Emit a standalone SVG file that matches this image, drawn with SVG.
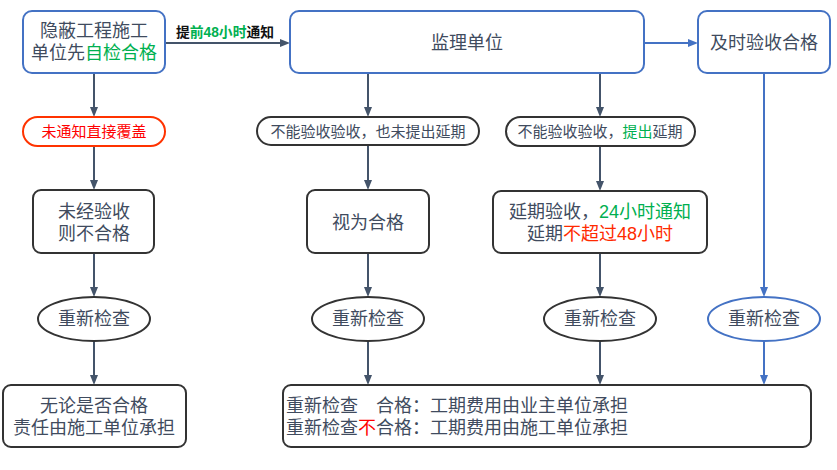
<svg xmlns="http://www.w3.org/2000/svg" width="837" height="470" viewBox="0 0 837 470">
<defs>
<style>
text{font-family:"Liberation Sans","Noto Sans CJK SC",sans-serif;fill:#404b5e;}
.t18{font-size:18px;text-anchor:middle;}
.t15{font-size:15px;text-anchor:middle;}
.lbl{font-weight:bold;fill:#111;font-size:14px;}
.g{fill:#00b050;}
.r{fill:#ff2a00;}
.rr{fill:#ff0000;}
.bbox{fill:#fff;stroke:#4472c4;stroke-width:2;}
.dbox{fill:#fff;stroke:#333;stroke-width:2;}
.rpill{fill:#fff;stroke:#ff3300;stroke-width:2;}
.c{fill:none;stroke:#44546a;stroke-width:2;}
.cb{fill:none;stroke:#4472c4;stroke-width:2;}
</style>
<marker id="ad" markerUnits="userSpaceOnUse" markerWidth="10" markerHeight="10" refX="5" refY="4" orient="auto"><path d="M0,0 L10,4 L0,8 z" fill="#44546a"/></marker>
<marker id="ab" markerUnits="userSpaceOnUse" markerWidth="10" markerHeight="10" refX="5" refY="4" orient="auto"><path d="M0,0 L10,4 L0,8 z" fill="#4472c4"/></marker>
</defs>
<g id="connectors">
<path class="c" d="M165,43 H285" marker-end="url(#ad)"/>
<path class="cb" d="M644,43 H693" marker-end="url(#ab)"/>
<path class="c" d="M94,73 V112" marker-end="url(#ad)"/>
<path class="c" d="M94,146 V185" marker-end="url(#ad)"/>
<path class="c" d="M94,253 V292" marker-end="url(#ad)"/>
<path class="c" d="M94,341 V380" marker-end="url(#ad)"/>
<path class="c" d="M368,73 V112" marker-end="url(#ad)"/>
<path class="c" d="M368,145 V185" marker-end="url(#ad)"/>
<path class="c" d="M368,253 V292" marker-end="url(#ad)"/>
<path class="c" d="M368,341 V380" marker-end="url(#ad)"/>
<path class="c" d="M600,73 V112" marker-end="url(#ad)"/>
<path class="c" d="M600,146 V186" marker-end="url(#ad)"/>
<path class="c" d="M600,253 V292" marker-end="url(#ad)"/>
<path class="c" d="M600,341 V380" marker-end="url(#ad)"/>
<path class="cb" d="M764,73 V292" marker-end="url(#ab)"/>
<path class="cb" d="M764,341 V380" marker-end="url(#ab)"/>
<text class="lbl" x="176" y="37" textLength="98" lengthAdjust="spacingAndGlyphs">提<tspan class="g">前48小时</tspan>通知</text>
</g>
<g id="n1"><rect class="bbox" x="23" y="11" width="142" height="62" rx="9"/>
<text class="t18" x="94" y="37">隐蔽工程施工</text>
<text class="t18" x="94" y="59">单位先<tspan class="g">自检合格</tspan></text></g>
<g id="n2"><rect class="bbox" x="290" y="11" width="354" height="62" rx="9"/>
<text class="t18" x="467" y="49">监理单位</text></g>
<g id="n3"><rect class="bbox" x="698" y="11" width="132" height="62" rx="9"/>
<text class="t18" x="764" y="49">及时验收合格</text></g>
<g id="p1"><rect class="rpill" x="23" y="117" width="142" height="29" rx="14.5"/>
<text class="t15 rr" x="94" y="137">未通知直接覆盖</text></g>
<g id="p2"><rect class="dbox" x="257" y="117" width="222" height="28" rx="14"/>
<text class="t15" x="368" y="137">不能验收验收，也未提出延期</text></g>
<g id="p3"><rect class="dbox" x="506" y="117" width="189" height="29" rx="14.5"/>
<text class="t15" x="600" y="137">不能验收验收，<tspan class="g">提出</tspan>延期</text></g>
<g id="b1"><rect class="dbox" x="33" y="190" width="121" height="63" rx="8"/>
<text class="t18" x="94" y="218">未经验收</text>
<text class="t18" x="94" y="240">则不合格</text></g>
<g id="b2"><rect class="dbox" x="307" y="190" width="122" height="63" rx="8"/>
<text class="t18" x="368" y="229">视为合格</text></g>
<g id="b3"><rect class="dbox" x="493" y="191" width="214" height="62" rx="8"/>
<text class="t18" x="600" y="218">延期验收，<tspan class="g">24小时通知</tspan></text>
<text class="t18" x="600" y="240">延期<tspan class="r">不超过48小时</tspan></text></g>
<g id="e1"><ellipse class="dbox" cx="94" cy="319" rx="56" ry="22"/><text class="t18" x="94" y="325">重新检查</text></g>
<g id="e2"><ellipse class="dbox" cx="368" cy="319" rx="56" ry="22"/><text class="t18" x="368" y="325">重新检查</text></g>
<g id="e3"><ellipse class="dbox" cx="600" cy="319" rx="56" ry="22"/><text class="t18" x="600" y="325">重新检查</text></g>
<g id="e4"><ellipse class="bbox" cx="764" cy="319" rx="56" ry="22"/><text class="t18" x="764" y="325">重新检查</text></g>
<g id="f1"><rect class="dbox" x="3" y="385" width="183" height="62" rx="8"/>
<text class="t18" x="94" y="412">无论是否合格</text>
<text class="t18" x="94" y="434">责任由施工单位承担</text></g>
<g id="f2"><rect class="dbox" x="283" y="385" width="528" height="62" rx="8"/>
<text style="font-size:18px" x="286" y="412">重新检查　合格：工期费用由业主单位承担</text>
<text style="font-size:18px" x="286" y="434">重新检查<tspan class="rr">不</tspan>合格：工期费用由施工单位承担</text></g>
</svg>
